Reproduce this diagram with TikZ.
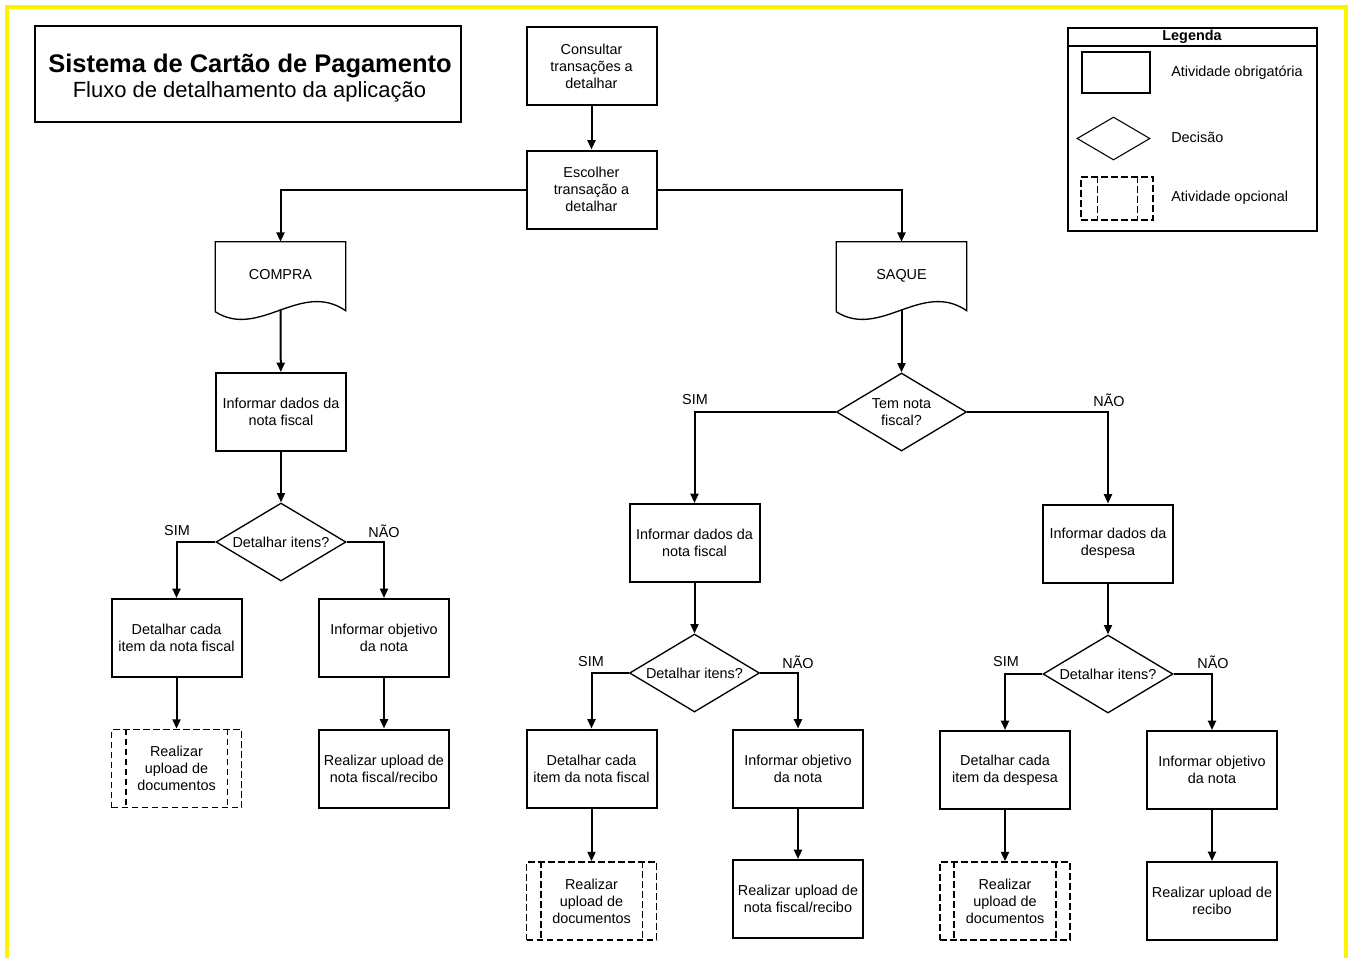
\documentclass[tikz,border=0pt]{standalone}
\usepackage{fontspec}
\setmainfont{Liberation Sans}
\usetikzlibrary{shapes.geometric,arrows.meta,calc}
\begin{document}
\begin{tikzpicture}[x=0.75pt,y=-0.75pt,
  every node/.style={font=\fontsize{10.8}{12.8}\selectfont, align=center, inner sep=0pt},
  box/.style={draw, line width=1.5pt, minimum width=97.5pt, minimum height=58.5pt},
  optbox/.style={draw, line width=1.3pt, dash pattern=on 5pt off 2.5pt, minimum width=97.5pt, minimum height=58.5pt},
  optline/.style={line width=1.3pt, dash pattern=on 5pt off 2.5pt},
  dec/.style={draw, diamond, shape aspect=1.67, line width=1pt, minimum width=97.5pt, minimum height=58.5pt},
  doc/.style={minimum width=97.5pt, minimum height=52.5pt},
  docline/.style={line width=1pt},
  conn/.style={line width=1.5pt},
  arr/.style={conn, -{Triangle[length=7pt,width=6pt]}},
  yn/.style={font=\fontsize{10.8}{12}\selectfont},
  frame/.style={draw, line width=1.2pt},
]
\useasboundingbox (0,0) rectangle (1353,958);
\draw[yellow, line width=2.3pt] (7,958) -- (7,7) -- (1346,7) -- (1346,958);

% title
\node[frame, minimum width=319.5pt, minimum height=72pt] (title) at (248,74) {};
\node[font=\bfseries\fontsize{19.1}{22}\selectfont, anchor=base] (t1) at (250,72) {Sistema de Cartão de Pagamento};
\node[font=\fontsize{16.5}{20}\selectfont, anchor=base] (t2) at (249.5,97) {Fluxo de detalhamento da aplicação};

% legend
\node[frame, minimum width=186.75pt, minimum height=152.25pt, anchor=north west] (leg) at (1067,27) {};
\draw[line width=1.2pt] ($(leg.north west)+(0,19)$) -- ($(leg.north east)+(0,19)$);
\node[font=\bfseries\fontsize{10.8}{12}\selectfont] (legt) at (1192,36.5) {Legenda};
\node[draw, line width=1.2pt, minimum width=51pt, minimum height=30.75pt] (lg1) at (1116,72.5) {};
\node[draw, diamond, shape aspect=1.7, line width=0.8pt, minimum width=54.75pt, minimum height=32.25pt] (lg2) at (1113.5,138.5) {};
\node[optbox, line width=1.1pt, minimum width=54pt, minimum height=32.25pt] (lg3) at (1117,198.5) {};
\draw[optline, line width=1.1pt] ($(lg3.north west)+(17,0)$) -- ($(lg3.south west)+(17,0)$);
\draw[optline, line width=1.1pt] ($(lg3.north east)+(-16,0)$) -- ($(lg3.south east)+(-16,0)$);
\node[anchor=west] (lgt1) at (1171,73) {Atividade obrigatória};
\node[anchor=west] (lgt2) at (1171,137) {Decisão};
\node[anchor=west] (lgt3) at (1171,198) {Atividade opcional};

% top
\node[box] (cons) at (591.5,66) {Consultar\\transações a\\detalhar};
\node[box] (esc) at (591.5,189.5) {Escolher\\transação a\\detalhar};
\draw[arr] (cons) -- (esc);

% document shapes
\node[doc] (compra) at (280.5,277) {\raisebox{4.5pt}{COMPRA}};
\node[doc] (saque) at (901.5,277) {\raisebox{4.5pt}{SAQUE}};
\foreach \d in {compra,saque}{
  \draw[docline] ($(\d.north west)+(0,70)$) -- (\d.north west) -- (\d.north east) -- ($(\d.north east)+(0,69)$)
    .. controls ($(\d.north east)+(-45,38)$) and ($(\d.north west)+(44,98)$) .. ($(\d.north west)+(0,70)$);
}
\draw[arr] (esc.west) -| (compra.north);
\draw[arr] (esc.east) -| (saque.north);

% COMPRA branch
\node[box] (c1) at (281,412) {Informar dados da\\nota fiscal};
\node[dec] (cd) at (281,542) {Detalhar itens?};
\node[box] (c2) at (176.5,638) {Detalhar cada\\item da nota fiscal};
\node[box] (c3) at (384,638) {Informar objetivo\\da nota};
\node[optbox] (c4) at (176.5,768.5) {Realizar\\upload de\\documentos};
\node[box] (c5) at (384,768.5) {Realizar upload de\\nota fiscal/recibo};
\draw[arr] ($(compra.south)+(0,-3)$) -- (c1);
\draw[arr] (c1) -- (cd);
\draw[arr] (cd.west) -| (c2.north);
\draw[arr] (cd.east) -| (c3.north);
\draw[arr] (c2) -- (c4);
\draw[arr] (c3) -- (c5);
\node[yn] (y1) at (177,531) {SIM};
\node[yn] (n1) at (384,531) {NÃO};

% SAQUE branch
\node[dec] (sd) at (901.5,412) {Tem nota\\fiscal?};
\draw[arr] ($(saque.south)+(0,-3)$) -- (sd);
\node[box] (s1) at (694.5,543) {Informar dados da\\nota fiscal};
\node[box] (s2) at (1108,543.5) {Informar dados da\\despesa};
\draw[arr] (sd.west) -| (s1.north);
\draw[arr] (sd.east) -| (s2.north);
\node[yn] (y2) at (695,400) {SIM};
\node[yn] (n2) at (1109,400) {NÃO};

\node[dec] (sd1) at (694.5,673) {Detalhar itens?};
\node[box] (s3) at (591.5,768.5) {Detalhar cada\\item da nota fiscal};
\node[box] (s4) at (798,768.5) {Informar objetivo\\da nota};
\node[optbox] (s5) at (591.5,901) {Realizar\\upload de\\documentos};
\node[box] (s6) at (798,899) {Realizar upload de\\nota fiscal/recibo};
\draw[arr] (s1) -- (sd1);
\draw[arr] (sd1.west) -| (s3.north);
\draw[arr] (sd1.east) -| (s4.north);
\draw[arr] (s3) -- (s5);
\draw[arr] (s4) -- (s6);
\node[yn] (y3) at (591,662) {SIM};
\node[yn] (n3) at (798,662) {NÃO};

\node[dec] (sd2) at (1108,674) {Detalhar itens?};
\node[box] (s7) at (1005,770) {Detalhar cada\\item da despesa};
\node[box] (s8) at (1212,770) {Informar objetivo\\da nota};
\node[optbox] (s9) at (1005,901) {Realizar\\upload de\\documentos};
\node[box] (s10) at (1212,901) {Realizar upload de\\recibo};
\draw[arr] (s2) -- (sd2);
\draw[arr] (sd2.west) -| (s7.north);
\draw[arr] (sd2.east) -| (s8.north);
\draw[arr] (s7) -- (s9);
\draw[arr] (s8) -- (s10);
\node[yn] (y4) at (1006,662) {SIM};
\node[yn] (n4) at (1213,662) {NÃO};

% inner dashed lines of optional boxes
\foreach \o in {c4,s5,s9}{
  \draw[optline] ($(\o.north west)+(15,0)$) -- ($(\o.south west)+(15,0)$);
  \draw[optline] ($(\o.north east)+(-15,0)$) -- ($(\o.south east)+(-15,0)$);
}
\end{tikzpicture}
\end{document}
